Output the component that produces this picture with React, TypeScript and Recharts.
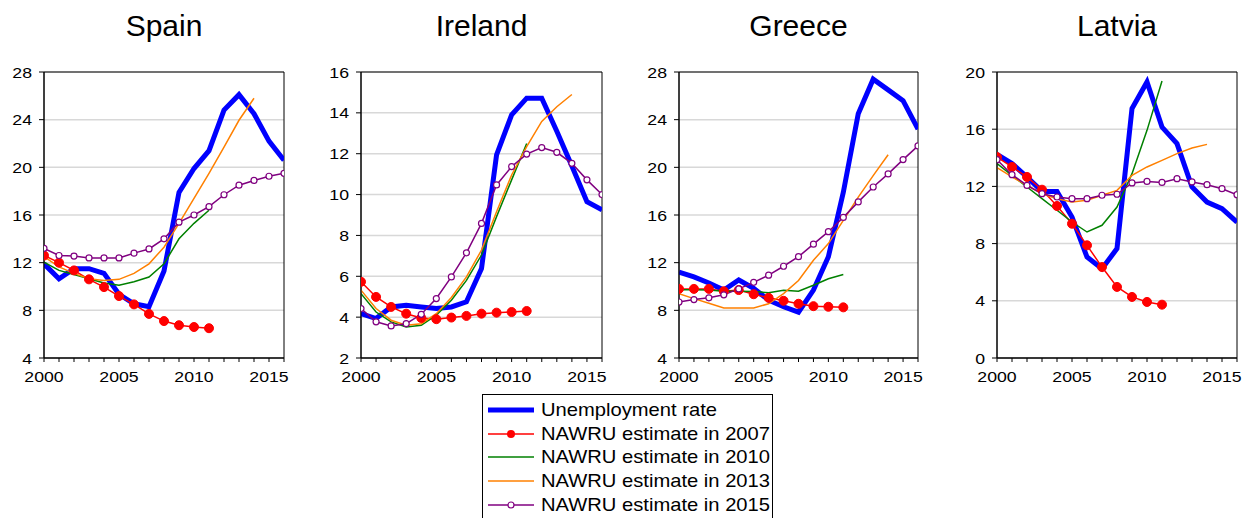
import { LineChart, Line, XAxis, YAxis, CartesianGrid, ReferenceArea } from 'recharts';

const years = [2000, 2001, 2002, 2003, 2004, 2005, 2006, 2007, 2008, 2009, 2010, 2011, 2012, 2013, 2014, 2015, 2016];
const xLabels = [2000, 2005, 2010, 2015];

// Spain
const spainUnemp = [11.9, 10.65, 11.5, 11.5, 11.1, 9.35, 8.55, 8.3, 11.3, 17.9, 19.9, 21.4, 24.8, 26.1, 24.5, 22.2, 20.6];
const spain2007 = [12.6, 12.0, 11.35, 10.6, 9.95, 9.2, 8.5, 7.7, 7.1, 6.75, 6.6, 6.5];
const spain2010 = [12.05, 11.35, 11.0, 10.65, 10.3, 10.1, 10.4, 10.8, 11.9, 14.0, 15.3, 16.4];
const spain2013 = [12.5, 11.65, 11.1, 10.65, 10.5, 10.6, 11.1, 11.9, 13.3, 15.3, 17.4, 19.5, 21.7, 23.95, 25.8];
const spain2015 = [13.2, 12.6, 12.55, 12.4, 12.4, 12.4, 12.8, 13.15, 14.0, 15.4, 16.0, 16.7, 17.7, 18.5, 18.9, 19.25, 19.5];

// Ireland
const irelandUnemp = [4.17, 3.93, 4.5, 4.58, 4.5, 4.42, 4.5, 4.75, 6.38, 11.94, 13.9, 14.72, 14.72, 13.1, 11.4, 9.65, 9.25];
const ireland2007 = [5.73, 4.99, 4.5, 4.17, 3.96, 3.9, 3.98, 4.06, 4.17, 4.22, 4.25, 4.3];
const ireland2010 = [5.15, 4.25, 3.77, 3.52, 3.6, 4.1, 4.83, 5.8, 7.04, 8.92, 10.72, 12.5];
const ireland2013 = [5.32, 4.42, 3.85, 3.6, 3.68, 4.17, 4.96, 5.97, 7.28, 9.16, 10.96, 12.35, 13.58, 14.3, 14.9];
const ireland2015 = [4.42, 3.77, 3.57, 3.68, 4.14, 4.91, 5.97, 7.15, 8.59, 10.47, 11.37, 11.98, 12.3, 12.07, 11.53, 10.72, 10.0];

// Greece
const greeceUnemp = [11.2, 10.8, 10.3, 9.7, 10.55, 9.85, 8.85, 8.3, 7.85, 9.7, 12.5, 17.9, 24.5, 27.4, 26.5, 25.6, 23.2];
const greece2007 = [9.8, 9.8, 9.8, 9.6, 9.7, 9.35, 9.05, 8.8, 8.55, 8.35, 8.3, 8.25];
const greece2010 = [9.73, 9.73, 9.7, 9.6, 9.6, 9.57, 9.48, 9.68, 9.6, 10.1, 10.65, 11.0];
const greece2013 = [9.4, 8.98, 8.6, 8.2, 8.2, 8.2, 8.55, 9.4, 10.5, 12.2, 13.6, 15.55, 17.5, 19.3, 21.06];
const greece2015 = [8.7, 8.9, 9.05, 9.3, 9.8, 10.35, 10.95, 11.7, 12.5, 13.55, 14.6, 15.8, 17.1, 18.35, 19.45, 20.65, 21.8];

// Latvia
const latviaUnemp = [14.24, 13.6, 12.66, 11.65, 11.65, 9.86, 7.06, 6.25, 7.65, 17.44, 19.3, 16.15, 14.99, 11.96, 10.9, 10.44, 9.5];
const latvia2007 = [14.05, 13.36, 12.66, 11.77, 10.63, 9.39, 7.88, 6.36, 4.97, 4.27, 3.92, 3.73];
const latvia2010 = [13.6, 12.77, 11.96, 11.14, 10.33, 9.51, 8.81, 9.28, 10.56, 12.89, 15.92, 19.37];
const latvia2013 = [13.31, 12.66, 12.07, 11.49, 11.14, 10.91, 11.03, 11.38, 11.72, 12.77, 13.36, 13.82, 14.29, 14.69, 14.94];
const latvia2015 = [13.87, 12.82, 12.07, 11.49, 11.26, 11.14, 11.14, 11.38, 11.45, 12.24, 12.35, 12.28, 12.54, 12.31, 12.12, 11.84, 11.42];

const seriesNames = [
  'Unemployment rate',
  'NAWRU estimate in 2007',
  'NAWRU estimate in 2010',
  'NAWRU estimate in 2013',
  'NAWRU estimate in 2015',
];

const FONT = '"Liberation Sans", Arial, sans-serif';
const BLUE = '#0000ff';
const RED = '#ff0000';
const GREEN = '#008000';
const ORANGE = '#ff8000';
const PURPLE = '#800080';
const TICK_FS = 15.5;
const STRETCH = 1.14; // the original's tick text is a bit wide

function XTick(props: any) {
  const { x, y, payload } = props;
  if (!xLabels.includes(payload.value)) return null;
  return (
    <text
      transform={`translate(${x},${y}) scale(${STRETCH},1)`}
      textAnchor="middle"
      dy="0.71em"
      fontSize={TICK_FS}
      fontFamily={FONT}
      fill="#000"
    >
      {payload.value}
    </text>
  );
}

function YTick(props: any) {
  const { x, y, payload } = props;
  return (
    <text
      transform={`translate(${x},${y}) scale(${STRETCH},1)`}
      textAnchor="end"
      dy="0.36em"
      fontSize={TICK_FS}
      fontFamily={FONT}
      fill="#000"
    >
      {payload.value}
    </text>
  );
}

type PanelProps = {
  title: string;
  series: number[][];
  yTicks: number[];
  plotLeft: number;
  plotWidth: number;
};

function Panel({ title, series, yTicks, plotLeft, plotWidth }: PanelProps) {
  const data = years.map((year, i) => ({
    year,
    unemp: series[0][i] ?? null,
    e2007: series[1][i] ?? null,
    e2010: series[2][i] ?? null,
    e2013: series[3][i] ?? null,
    e2015: series[4][i] ?? null,
  }));
  const yMin = yTicks[0];
  const yMax = yTicks[yTicks.length - 1];
  const yAxisW = 40;

  return (
    <>
      <div
        style={{
          position: 'absolute',
          left: plotLeft,
          top: 7,
          width: plotWidth,
          textAlign: 'center',
          fontSize: 30,
          lineHeight: '38px',
          fontFamily: FONT,
          color: '#000',
        }}
      >
        {title}
      </div>
      <div style={{ position: 'absolute', left: plotLeft - yAxisW, top: 0 }}>
        <LineChart
          width={yAxisW + plotWidth + 10}
          height={400}
          data={data}
          margin={{ top: 72, right: 10, bottom: 12, left: 0 }}
        >
          <CartesianGrid vertical={false} stroke="#d8d8d8" strokeWidth={1.5} />
          <XAxis
            dataKey="year"
            type="number"
            domain={[2000, 2016]}
            ticks={years}
            interval={0}
            height={30}
            tickSize={4}
            tickMargin={9}
            stroke="#000"
            tick={<XTick />}
            allowDataOverflow
          />
          <YAxis
            type="number"
            domain={[yMin, yMax]}
            ticks={yTicks}
            interval={0}
            width={yAxisW}
            tickSize={5}
            tickMargin={7}
            stroke="#000"
            tick={<YTick />}
            allowDataOverflow
          />
          <ReferenceArea
            x1={2000}
            x2={2016}
            y1={yMin}
            y2={yMax}
            fill="none"
            stroke="#000"
            strokeWidth={1}
            ifOverflow="visible"
          />
          <Line
            dataKey="unemp"
            stroke={BLUE}
            strokeWidth={5}
            dot={false}
            isAnimationActive={false}
            type="linear"
          />
          <Line
            dataKey="e2007"
            stroke={RED}
            strokeWidth={1.5}
            dot={{ r: 4.5, fill: RED, stroke: RED, strokeWidth: 1 }}
            isAnimationActive={false}
            type="linear"
          />
          <Line
            dataKey="e2010"
            stroke={GREEN}
            strokeWidth={1.5}
            dot={false}
            isAnimationActive={false}
            type="linear"
          />
          <Line
            dataKey="e2013"
            stroke={ORANGE}
            strokeWidth={1.5}
            dot={false}
            isAnimationActive={false}
            type="linear"
          />
          <Line
            dataKey="e2015"
            stroke={PURPLE}
            strokeWidth={1.5}
            dot={{ r: 3, fill: '#fff', stroke: PURPLE, strokeWidth: 1.2 }}
            isAnimationActive={false}
            type="linear"
          />
        </LineChart>
      </div>
    </>
  );
}

function LegendIcon({ index }: { index: number }) {
  const colors = [BLUE, RED, GREEN, ORANGE, PURPLE];
  const c = colors[index];
  return (
    <svg width={46} height={12} style={{ display: 'block', flex: 'none' }}>
      <line x1={0} y1={6} x2={46} y2={6} stroke={c} strokeWidth={index === 0 ? 5 : 1.5} />
      {index === 1 && <circle cx={23} cy={6} r={4} fill={RED} />}
      {index === 4 && <circle cx={23} cy={6} r={3} fill="#fff" stroke={PURPLE} strokeWidth={1.2} />}
    </svg>
  );
}

export default function App() {
  return (
    <div
      style={{
        position: 'absolute',
        left: 0,
        top: 0,
        width: 1250,
        height: 518,
        background: '#fff',
        overflow: 'hidden',
        fontFamily: FONT,
      }}
    >
      <Panel
        title="Spain"
        series={[spainUnemp, spain2007, spain2010, spain2013, spain2015]}
        yTicks={[4, 8, 12, 16, 20, 24, 28]}
        plotLeft={44}
        plotWidth={240}
      />
      <Panel
        title="Ireland"
        series={[irelandUnemp, ireland2007, ireland2010, ireland2013, ireland2015]}
        yTicks={[2, 4, 6, 8, 10, 12, 14, 16]}
        plotLeft={361}
        plotWidth={241}
      />
      <Panel
        title="Greece"
        series={[greeceUnemp, greece2007, greece2010, greece2013, greece2015]}
        yTicks={[4, 8, 12, 16, 20, 24, 28]}
        plotLeft={679}
        plotWidth={239}
      />
      <Panel
        title="Latvia"
        series={[latviaUnemp, latvia2007, latvia2010, latvia2013, latvia2015]}
        yTicks={[0, 4, 8, 12, 16, 20]}
        plotLeft={997}
        plotWidth={240}
      />

      {/* legend box, runs off the bottom edge like the original */}
      <div
        style={{
          position: 'absolute',
          left: 482,
          top: 394,
          width: 291,
          height: 140,
          border: '1px solid #000',
          paddingTop: 3,
          boxSizing: 'border-box',
        }}
      >
        {seriesNames.map((name, i) => (
          <div
            key={name}
            style={{ display: 'flex', alignItems: 'center', height: 23.7, paddingLeft: 5 }}
          >
            <LegendIcon index={i} />
            <span
              style={{
                marginLeft: 7,
                fontSize: 18.5,
                color: '#000',
                whiteSpace: 'nowrap',
                display: 'inline-block',
                transform: 'scaleX(1.09)',
                transformOrigin: 'left center',
              }}
            >
              {name}
            </span>
          </div>
        ))}
      </div>
    </div>
  );
}
